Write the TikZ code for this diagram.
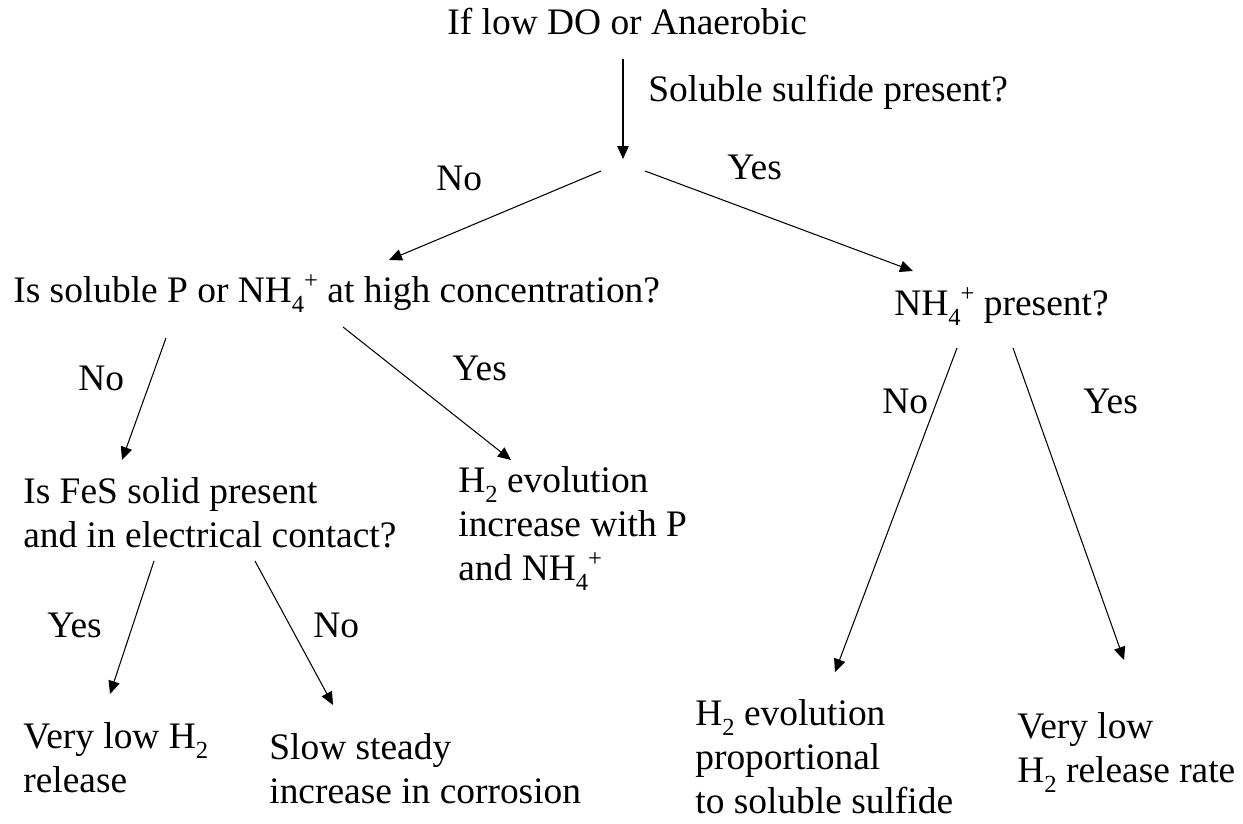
\documentclass[tikz,border=0pt]{standalone}
\usepackage{fontspec}
\setmainfont{Liberation Serif}
\usetikzlibrary{arrows.meta}
\newcommand{\subx}[1]{\raisebox{-0.27em}{\fontsize{14}{14}\selectfont #1}}
\newcommand{\supx}[1]{\raisebox{0.36em}{\fontsize{14}{14}\selectfont #1}}

\begin{document}
\begin{tikzpicture}[x=0.02cm,y=-0.02cm,
  arr/.style={line width=0.6pt,-{Triangle[length=2.6mm,width=2.3mm]}},
  txt/.style={anchor=base west,inner sep=0pt,align=left,font=\fontsize{21.3}{25}\selectfont}]
\useasboundingbox (0,0) rectangle (1243,824);
\node [txt] (anaer) at (447,35) {If low DO or Anaerobic};
\node [txt] (sulf) at (648,102) {Soluble sulfide present?};
\node [txt] (conc) at (13,302) {Is soluble P or NH\subx{4}\supx{+} at high concentration?};
\node [txt] (nh) at (894,315) {NH\subx{4}\supx{+} present?};
\node [txt] (fes) at (23,547) {Is FeS solid present\\and in electrical contact?};
\node [txt] (incr) at (458,580) {H\subx{2} evolution\\increase with P\\and NH\subx{4}\supx{+}};
\node [txt] (vlow) at (23,792) {Very low H\subx{2}\\release};
\node [txt] (slow) at (269,803) {Slow steady\\increase in corrosion};
\node [txt] (prop) at (695,813) {H\subx{2} evolution\\proportional\\to soluble sulfide};
\node [txt] (rate) at (1017,782) {Very low\\H\subx{2} release rate};
\node [txt] (no1) at (436,191) {No};
\node [txt] (yes1) at (727,180) {Yes};
\node [txt] (no2) at (78,390) {No};
\node [txt] (yes2) at (452,380) {Yes};
\node [txt] (no3) at (882,413) {No};
\node [txt] (yes3) at (1083,413) {Yes};
\node [txt] (yes4) at (47,637) {Yes};
\node [txt] (no4) at (313,637) {No};
\coordinate (T0) at (623,59);
\coordinate (T1) at (623,159);
\coordinate (L0) at (601,171);
\coordinate (R0) at (645,171);
\coordinate (CL) at (166,338);
\coordinate (CR) at (343,327);
\coordinate (NL) at (957,348);
\coordinate (NR) at (1013,348);
\coordinate (FL) at (154,561);
\coordinate (FR) at (255,561);
\draw [arr] (T0) -- (T1);
\draw [arr] (L0) -- (389,260) coordinate (L1);
\draw [arr] (R0) -- (913,271) coordinate (R1);
\draw [arr] (CL) -- (122,460) coordinate (CL1);
\draw [arr] (CR) -- (511,460) coordinate (CR1);
\draw [arr] (NL) -- (835,672) coordinate (NL1);
\draw [arr] (NR) -- (1124,660) coordinate (NR1);
\draw [arr] (FL) -- (110,694) coordinate (FL1);
\draw [arr] (FR) -- (333,705) coordinate (FR1);
\end{tikzpicture}
\end{document}
